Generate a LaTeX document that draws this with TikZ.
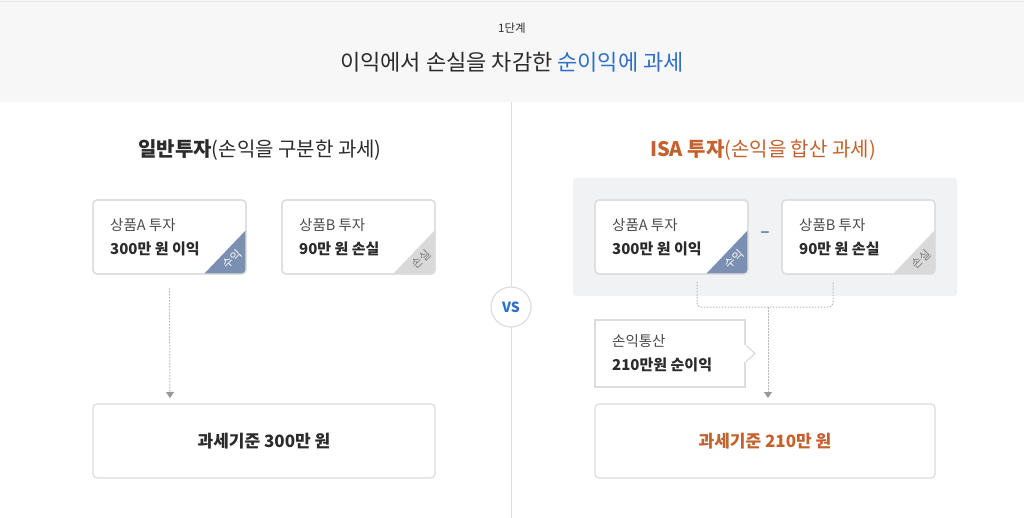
\documentclass[tikz,border=0pt]{standalone}
\usepackage{fontspec}
\setmainfont{Noto Sans CJK KR}
\usetikzlibrary{arrows.meta,calc}
\definecolor{headbg}{HTML}{F7F7F7}
\definecolor{headline}{HTML}{E6E6E6}
\definecolor{linegray}{HTML}{DDDDDD}
\definecolor{panel}{HTML}{F1F2F4}
\definecolor{ink}{HTML}{2B2B2B}
\definecolor{soft}{HTML}{4A4A4A}
\definecolor{bluetxt}{HTML}{2F6FC6}
\definecolor{orangetxt}{HTML}{C4612C}
\definecolor{gainblue}{HTML}{7A8FB2}
\definecolor{lossgray}{HTML}{D9D9D9}
\definecolor{losstxt}{HTML}{7A7A7A}
\definecolor{dotgray}{HTML}{B8B8B8}
\definecolor{tipgray}{HTML}{999999}

\newcommand\cornertag[4]{%
  \begin{scope}
    \clip[rounded corners=4pt] (#1.south west) rectangle (#1.north east);
    \fill[#2] (#1.south east) -- ($(#1.south east)+(0,-44)$) -- ($(#1.south east)+(-42,0)$) -- cycle;
  \end{scope}
  \draw[linegray, line width=1.3pt, rounded corners=4pt] (#1.south west) rectangle (#1.north east);
  \node[tag, text=#4] (#1tag) at ($(#1.south east)+(-14,-15)$) {#3};
}

\begin{document}
\begin{tikzpicture}[x=1pt, y=-1pt,
    card/.style={draw=linegray, line width=1.3pt, fill=white, rounded corners=4pt, outer sep=0pt,
      minimum width=153pt, minimum height=74pt, inner sep=0pt},
    result/.style={card, minimum width=342pt, font=\fontsize{17}{17}\selectfont\bfseries},
    cardtext/.style={anchor=west, align=left, text=soft, inner sep=0pt, font=\fontsize{14.5}{24}\selectfont},
    heading/.style={font=\fontsize{20}{20}\selectfont},
    tag/.style={rotate=45, inner sep=0pt, font=\fontsize{11.5}{11.5}\selectfont},
    dots/.style={draw=dotgray, line width=1pt, dash pattern=on 1.5pt off 1.5pt},
    flow/.style={dots, -{Triangle[width=8pt, length=6pt, fill=tipgray, color=tipgray]}}]
    \useasboundingbox (0,0) rectangle (1024,518);
    \fill[white] (0,0) rectangle (1024,518);

    \fill[headbg] (0,0) rectangle (1024,102);
    \draw[headline, line width=1.5pt] (0,1.5) -- (1024,1.5);
    \node[text=ink, font=\fontsize{11.5}{11.5}\selectfont] (step) at (512,28) {1단계};
    \node[font=\fontsize{22}{22}\selectfont] (title) at (512,62)
      {\textcolor{ink}{이익에서 손실을 차감한 }\textcolor{bluetxt}{순이익에 과세}};

    \draw[linegray, line width=1pt] (511,102) -- (511,518);
    \node[circle, draw=linegray, line width=1.2pt, fill=white, minimum size=40pt, inner sep=0pt,
      text=bluetxt, font=\fontsize{14}{14}\selectfont\bfseries] (vs) at (511,307) {VS};

    \node[heading, text=ink] (lHead) at (260,150) {{\bfseries 일반투자}(손익을 구분한 과세)};
    \node[heading, text=orangetxt] (rHead) at (763,150) {{\bfseries ISA 투자}(손익을 합산 과세)};

    \node[card] (lA) at (169.5,237) {};
    \node[card] (lB) at (358.5,237) {};
    \cornertag{lA}{gainblue}{수익}{white}
    \cornertag{lB}{lossgray}{손실}{losstxt}
    \node[cardtext] (lAtxt) at ([xshift=17pt]lA.west)
      {상품A 투자\\\textcolor{ink}{\fontsize{15}{24}\selectfont\bfseries 300만 원 이익}};
    \node[cardtext] (lBtxt) at ([xshift=17pt]lB.west)
      {상품B 투자\\\textcolor{ink}{\fontsize{15}{24}\selectfont\bfseries 90만 원 손실}};
    \node[result, text=ink] (lRes) at (264,441) {과세기준 300만 원};
    \coordinate (lTip) at (170,398);
    \draw[flow] ([yshift=-14pt]lA.south) -- (lTip);

    \fill[panel, rounded corners=3pt] (573,178) rectangle (957,296);
    \node[card] (rA) at (671.5,237) {};
    \node[card] (rB) at (858.5,237) {};
    \cornertag{rA}{gainblue}{수익}{white}
    \cornertag{rB}{lossgray}{손실}{losstxt}
    \node[cardtext] (rAtxt) at ([xshift=17pt]rA.west)
      {상품A 투자\\\textcolor{ink}{\fontsize{15}{24}\selectfont\bfseries 300만 원 이익}};
    \node[cardtext] (rBtxt) at ([xshift=17pt]rB.west)
      {상품B 투자\\\textcolor{ink}{\fontsize{15}{24}\selectfont\bfseries 90만 원 손실}};
    \node[text=gainblue, font=\fontsize{17}{17}\selectfont\bfseries] (minus) at (765,235) {–};

    \draw[dots, rounded corners=4pt] ([xshift=25.5pt,yshift=-8pt]rA.south) -- ++(0,25)
      -| ([xshift=-25.5pt,yshift=-8pt]rB.south);
    \coordinate (rJoin) at (768,307);
    \coordinate (rTip) at (768,398);
    \draw[flow] (rJoin) -- (rTip);

    \node[card, rounded corners=0pt, minimum width=150pt, minimum height=67pt] (note) at (670,353.5) {};
    \filldraw[fill=white, draw=linegray, line width=1.3pt] ([yshift=9pt]note.east) -- ([xshift=10pt]note.east)
      -- ([yshift=-9pt]note.east);
    \fill[white] ([xshift=-0.7pt,yshift=8.3pt]note.east) rectangle ([xshift=0.8pt,yshift=-8.3pt]note.east);
    \node[cardtext] (notetxt) at ([xshift=17pt]note.west)
      {손익통산\\\textcolor{ink}{\fontsize{15}{24}\selectfont\bfseries 210만원 순이익}};

    \node[result, minimum width=340pt, text=orangetxt] (rRes) at (765,441) {과세기준 210만 원};
\end{tikzpicture}
\end{document}
